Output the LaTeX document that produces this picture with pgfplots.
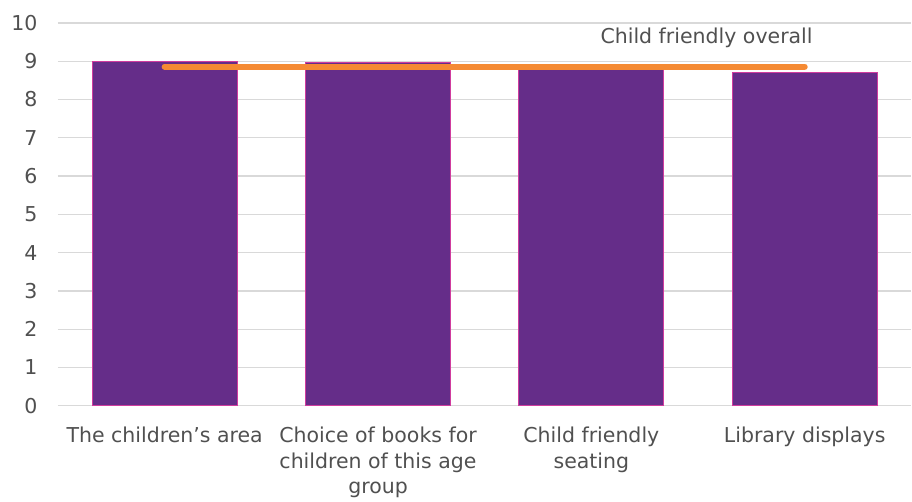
\documentclass[border=0pt]{standalone}
\usepackage{pgfplots}
\pgfplotsset{compat=1.18}
\usepackage{fontspec}
\setmainfont{DejaVu Sans}
\definecolor{barfill}{HTML}{652D89}
\definecolor{baredge}{HTML}{D03C9E}
\definecolor{lineor}{HTML}{F58A33}
\definecolor{gridc}{HTML}{D9D9D9}
\definecolor{txt}{HTML}{505050}
\begin{document}
\begin{tikzpicture}
\begin{axis}[
  at={(0,0)}, anchor=south west,
  scale only axis, width=854pt, height=383pt,
  xmin=-0.5, xmax=3.5, ymin=0, ymax=10,
  ytick={0,1,...,10},
  xtick={0,1,2,3},
  xticklabels={The children’s area, Choice of books for\\children of this age\\group, Child friendly\\seating, Library displays},
  x tick label style={align=center, font=\fontsize{20.5}{25.5}\selectfont, text=txt, yshift=-18pt},
  y tick label style={font=\fontsize{20.5}{24}\selectfont, text=txt},
  /pgf/number format/assume math mode=true,
  ymajorgrids, grid style={draw=gridc, line width=1.2pt},
  axis line style={draw=none},
  major tick length=0pt,
  yticklabel style={xshift=-17pt},
  clip=false,
]
\addplot[ybar, bar width=0.68, fill=barfill, draw=baredge, line width=1pt] coordinates {(0,9.0) (1,8.98) (2,8.85) (3,8.71)};
\addplot[lineor, line width=6pt, line cap=round] coordinates {(0,8.86) (3,8.86)};
\node[font=\fontsize{20.5}{24}\selectfont, text=txt] at (axis cs:2.54,9.62) {Child friendly overall};
\end{axis}
\useasboundingbox (-58pt,-91pt) rectangle (854pt,406pt);
\end{tikzpicture}
\end{document}
